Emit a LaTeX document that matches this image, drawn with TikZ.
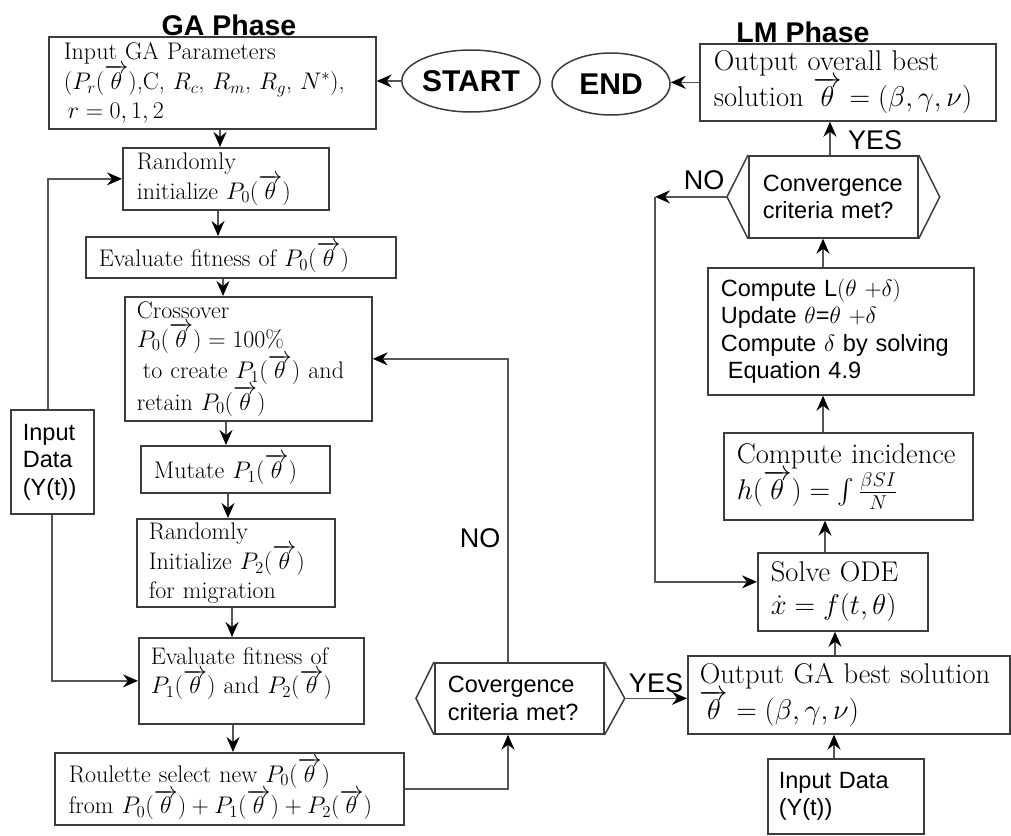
\RequirePackage{fix-cm}
\documentclass[tikz,border=0pt]{standalone}
\usepackage{exscale}
\usepackage{fontspec}
\newfontfamily\arial{Liberation Sans}
\usetikzlibrary{arrows.meta,shapes.geometric}
\definecolor{bd}{HTML}{3C3C3C}
\definecolor{ln}{HTML}{555555}
\begin{document}
\begin{tikzpicture}[x=1pt,y=-1pt,
  box/.style={draw=bd, line width=1.7pt, inner xsep=0pt, inner ysep=2pt, align=left, anchor=north west},
  lpad/.style={execute at begin node={\def\pd{\hspace*{#1}}}},
  hx/.style={draw=bd, line width=1.5pt},
  lser/.style={font=\fontsize{24}{29}\selectfont},
  rser/.style={font=\fontsize{28.5}{33}\selectfont},
  sans/.style={font=\arial\fontsize{23.5}{27.5}\selectfont},
  lab/.style={font=\arial\fontsize{27}{30}\selectfont, inner sep=0pt},
  ttl/.style={font=\arial\bfseries\fontsize{28.5}{32}\selectfont, inner sep=0pt},
  oval/.style={draw=bd, line width=1.5pt, ellipse, inner sep=0pt, font=\arial\bfseries\fontsize{30}{32}\selectfont},
  arr/.style={draw=ln, line width=1.4pt, -{Stealth[length=15pt,width=13pt,inset=5pt,color=black]}},
  con/.style={draw=ln, line width=1.4pt}]
\useasboundingbox[fill=white] (0,0) rectangle (1011,835);

% titles
\node[ttl] (gat) at (229,25) {GA Phase};
\node[ttl] (lmt) at (803,32) {LM Phase};

% terminals
\node[oval, minimum width=116pt, minimum height=62pt] (start) at (471,81) {START};
\node[oval, minimum width=118pt, minimum height=62pt] (end) at (611,84) {END};

% GA column
\node[box,lser,lpad=15pt,text width=327pt,minimum height=92pt] (b1) at (48,36)
  {\pd Input GA Parameters\\ \pd$(P_r(\overrightarrow{\theta})$,C, $R_c$, $R_m$, $R_g$, $N^{*})$,\\ \pd\hspace*{4pt}$r=0,1,2$};
\node[box,lser,lpad=14pt,text width=206pt,minimum height=62pt] (rand1) at (122,147)
  {\pd Randomly\\ \pd initialize $P_0(\overrightarrow{\theta})$};
\node[box,lser,lpad=13pt,text width=310pt,minimum height=41pt] (eval0) at (85,236)
  {\pd Evaluate fitness of $P_0(\overrightarrow{\theta})$};
\node[box,lser,lpad=12pt,text width=247pt,minimum height=124pt] (cross) at (124,296)
  {\pd Crossover\\ \pd$P_0(\overrightarrow{\theta})=100\%$\\ \pd\hspace*{6pt}to create $P_1(\overrightarrow{\theta})$ and\\ \pd retain $P_0(\overrightarrow{\theta})$};
\node[box,lser,lpad=13pt,text width=189pt,minimum height=47pt] (mut) at (140,445)
  {\pd Mutate $P_1(\overrightarrow{\theta})$};
\node[box,lser,lpad=12pt,text width=198pt,minimum height=88pt] (rand2) at (136,518)
  {\pd Randomly\\ \pd Initialize $P_2(\overrightarrow{\theta})$\\ \pd for migration};
\node[box,lser,lpad=12pt,text width=225pt,minimum height=86pt] (eval1) at (138,637)
  {\pd Evaluate fitness of\\ \pd$P_1(\overrightarrow{\theta})$ and $P_2(\overrightarrow{\theta})$\\[-9pt]\mbox{}};
\node[box,lser,lpad=14pt,text width=349pt,minimum height=72pt] (roul) at (54,752)
  {\pd Roulette select new $P_0(\overrightarrow{\theta})$\\ \pd from $P_0(\overrightarrow{\theta})+P_1(\overrightarrow{\theta})+P_2(\overrightarrow{\theta})$};
\node[box,sans,lpad=12pt,text width=83pt,minimum height=104pt] (inL) at (10,409)
  {\pd Input\\ \pd Data\\ \pd(Y(t))};

% bottom convergence
\node[box,sans,lpad=13pt,text width=169pt,minimum height=71pt] (h1) at (434,662)
  {\pd Covergence\\ \pd criteria met?};
\draw[hx] (h1.north west) -- ([xshift=-18pt]h1.west) -- (h1.south west);
\draw[hx] (h1.north east) -- ([xshift=20pt]h1.east) -- (h1.south east);
\coordinate (h1r) at ([xshift=20pt]h1.east);

% LM column
\node[box,rser,lpad=14pt,text width=296pt,minimum height=77pt] (out1) at (699,43)
  {\pd Output overall best\\ \pd solution $\overrightarrow{\theta}=(\beta,\gamma,\nu)$};
\node[box,sans,lpad=14pt,text width=169pt,minimum height=82pt] (h2) at (748,155)
  {\pd Convergence\\ \pd criteria met?};
\draw[hx] (h2.north west) -- ([xshift=-21pt]h2.west) -- (h2.south west);
\draw[hx] (h2.north east) -- ([xshift=21pt]h2.east) -- (h2.south east);
\coordinate (h2l) at ([xshift=-21pt]h2.west);
\node[box,sans,lpad=13pt,text width=266pt,minimum height=127pt] (comp) at (707,267)
  {\pd Compute L$(\theta\ {+}\delta)$\\ \pd Update $\theta$=$\theta$ $+\delta$\\ \pd Compute $\delta$ by solving\\ \pd\hspace*{7pt}Equation 4.9};
\node[box,rser,lpad=13pt,text width=249pt,minimum height=87pt] (inc) at (723,432)
  {\pd Compute incidence\\ \pd$h(\overrightarrow{\theta})=\int\frac{\beta SI}{N}$};
\node[box,rser,lpad=13pt,text width=170pt,minimum height=78pt] (ode) at (757,552)
  {\pd Solve ODE\\ \pd$\dot{x}=f(t,\theta)$};
\node[box,rser,lpad=12pt,text width=322pt,minimum height=78pt] (outGA) at (687,655)
  {\pd Output GA best solution\\ \pd$\overrightarrow{\theta}=(\beta,\gamma,\nu)$};
\node[box,sans,lpad=11pt,text width=156pt,minimum height=75pt] (inR) at (767,758)
  {\pd Input Data\\ \pd(Y(t))};

% x positions of vertical connectors
\coordinate (xa) at (220,0);
\coordinate (xb) at (218,0);
\coordinate (xc) at (223,0);
\coordinate (xd) at (226,0);
\coordinate (xe) at (228,0);
\coordinate (xf) at (232,0);
\coordinate (xg) at (233,0);
\coordinate (xn) at (508,0);
\coordinate (xl1) at (48,0);
\coordinate (xl2) at (52,0);
\coordinate (xr1) at (834,0);
\coordinate (xr2) at (835,0);
\coordinate (xr3) at (825,0);
\coordinate (xr4) at (823,0);
\coordinate (xr5) at (830,0);
\coordinate (xq) at (655,0);
\coordinate (nl) at (h2l -| xq);

% connectors
\draw[arr] (start.west) -- (start.west -| b1.east);
\draw[arr] (out1.west) -- (out1.west -| end.east);
\draw[arr] (b1.south -| xa) -- (rand1.north -| xa);
\draw[arr] (rand1.south -| xb) -- (eval0.north -| xb);
\draw[arr] (eval0.south -| xc) -- (cross.north -| xc);
\draw[arr] (cross.south -| xd) -- (mut.north -| xd);
\draw[arr] (mut.south -| xe) -- (rand2.north -| xe);
\draw[arr] (rand2.south -| xf) -- (eval1.north -| xf);
\draw[arr] (eval1.south -| xg) -- (roul.north -| xg);
\draw[arr] (roul.east) -| (h1.south -| xn);
\draw[arr] (h1.north -| xn) |- (cross.east);
\node[lab] (no1) at (480,538) {NO};
\draw[arr] (h1r) -- (h1r -| outGA.west);
\node[lab] (yes1) at (656,683) {YES};
\draw[arr] (inL.north -| xl1) |- (rand1.west);
\draw[arr] (inL.south -| xl2) |- (eval1.west);
\draw[arr] (inR.north -| xr1) -- (outGA.south -| xr1);
\draw[arr] (outGA.north -| xr2) -- (ode.south -| xr2);
\draw[arr] (ode.north -| xr3) -- (inc.south -| xr3);
\draw[arr] (inc.north -| xr4) -- (comp.south -| xr4);
\draw[arr] (comp.north -| xr4) -- (h2.south -| xr4);
\draw[arr] (h2.north -| xr5) -- (out1.south -| xr5);
\node[lab] (yes2) at (875,140) {YES};
\draw[arr] (h2l) -- (nl);
\draw[arr] (nl) |- ([yshift=10pt]ode.west);
\node[lab] (no2) at (704,180) {NO};
\end{tikzpicture}
\end{document}
